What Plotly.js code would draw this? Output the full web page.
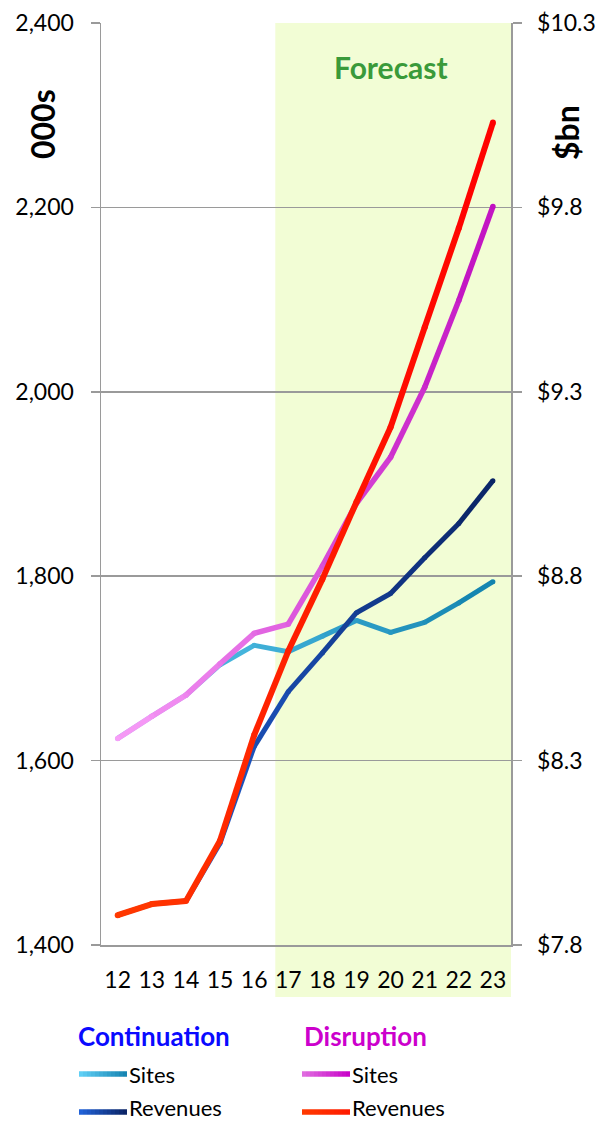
<!DOCTYPE html>
<html>
<head>
<meta charset="utf-8">
<script src="https://cdn.plot.ly/plotly-3.0.1.min.js"></script>
<style>
  html, body { margin: 0; padding: 0; background: #ffffff; }
  #chart { width: 603px; height: 1122px; }
</style>
</head>
<body>
<div id="chart"></div>
<script>
// Years (two-digit) on the category axis
const categories = ['12', '13', '14', '15', '16', '17', '18', '19', '20', '21', '22', '23'];

// Sites, thousands (left axis)
const continuationSites = [1624, 1648, 1671, 1704, 1725, 1718, 1735, 1752, 1739, 1750, 1771, 1794];
const disruptionSites   = [1624, 1648, 1671, 1705, 1738, 1748, 1811, 1879, 1929, 2005, 2099, 2201];

// Revenues, $bn (right axis)
const continuationRevenues = [7.881, 7.911, 7.919, 8.076, 8.338, 8.487, 8.592, 8.701, 8.753, 8.850, 8.943, 9.059];
const disruptionRevenues   = [7.881, 7.911, 7.919, 8.083, 8.369, 8.597, 8.792, 9.001, 9.204, 9.475, 9.744, 10.030];

// Axis ticks
const leftTickValues  = [1400, 1600, 1800, 2000, 2200, 2400];
const rightTickValues = [7.8, 8.3, 8.8, 9.3, 9.8, 10.3];
const rightTickLabels = ['$7.8', '$8.3', '$8.8', '$9.3', '$9.8', '$10.3'];

const forecastFrom = '17';

const FONT = 'Lato, "Open Sans", sans-serif';
const GRID = '#9a9a9a';

function hexToRgb(h) {
  const n = parseInt(h.slice(1), 16);
  return [(n >> 16) & 255, (n >> 8) & 255, n & 255];
}
function mix(a, b, t) {
  const A = hexToRgb(a), B = hexToRgb(b);
  const c = A.map((v, i) => Math.round(v + (B[i] - v) * t));
  return 'rgb(' + c.join(',') + ')';
}

const traces = [];

// Each series is drawn segment by segment so the colour can shift along the line;
// round dots at the vertices close the joins.
function addSeries(values, yaxis, c0, c1, width) {
  const n = values.length;
  for (let k = 0; k < n - 1; k++) {
    traces.push({
      x: [categories[k], categories[k + 1]],
      y: [values[k], values[k + 1]],
      yaxis: yaxis,
      mode: 'lines',
      line: { color: mix(c0, c1, (k + 0.5) / (n - 1)), width: width },
      hoverinfo: 'skip',
      showlegend: false
    });
  }
  traces.push({
    x: categories,
    y: values,
    yaxis: yaxis,
    mode: 'markers',
    marker: {
      size: width,
      color: values.map((_, i) => mix(c0, c1, i / (n - 1))),
      line: { width: 0 }
    },
    hoverinfo: 'skip',
    showlegend: false
  });
}

addSeries(continuationSites, 'y', '#5ccbf2', '#1283ae', 5);
addSeries(continuationRevenues, 'y2', '#2468e4', '#0a2464', 5);
addSeries(disruptionSites, 'y', '#f89ef8', '#c010c0', 5.5);
addSeries(disruptionRevenues, 'y2', '#ff3a00', '#ff0000', 6);

// Plot-area geometry in pixels, used to place the hand-built legend in paper units
const L = 101, R = 511, T = 23, B = 945;
const px = x => (x - L) / (R - L);
const py = y => (B - y) / (B - T);

const shapes = [
  {
    type: 'rect', layer: 'below',
    xref: 'x', yref: 'paper',
    x0: categories.indexOf(forecastFrom) - 0.38, x1: categories.length - 0.47,
    y0: py(997), y1: 1,
    fillcolor: '#f2fdd5', line: { width: 0 }
  }
];

// Legend swatches with the same colour shift as the lines
function swatch(x0, x1, y, c0, c1, width) {
  const steps = 12;
  for (let i = 0; i < steps; i++) {
    shapes.push({
      type: 'line', xref: 'paper', yref: 'paper',
      x0: px(x0 + (x1 - x0) * i / steps), x1: px(x0 + (x1 - x0) * (i + 1) / steps),
      y0: py(y), y1: py(y),
      line: { color: mix(c0, c1, (i + 0.5) / steps), width: width }
    });
  }
}
swatch(79, 127, 1074, '#62d2f8', '#1482b0', 5.5);
swatch(79, 127, 1112, '#2264dc', '#0a2262', 5.5);
swatch(302, 350, 1074, '#e070e0', '#c800c8', 5.5);
swatch(302, 350, 1112, '#ff3a00', '#ff1a00', 5.5);

const annotations = [
  { text: '<b>Forecast</b>', xref: 'paper', yref: 'paper', x: px(391), y: py(67),
    xanchor: 'center', yanchor: 'middle', showarrow: false,
    font: { family: FONT, size: 30, color: '#3a9a3a' } },
  { text: '<b>000s</b>', xref: 'paper', yref: 'paper', x: px(42), y: py(124),
    xanchor: 'center', yanchor: 'middle', textangle: -90, showarrow: false,
    font: { family: FONT, size: 32, color: '#000000' } },
  { text: '<b>$bn</b>', xref: 'paper', yref: 'paper', x: px(566), y: py(133),
    xanchor: 'center', yanchor: 'middle', textangle: -90, showarrow: false,
    font: { family: FONT, size: 32, color: '#000000' } },
  { text: '<b>Continuation</b>', xref: 'paper', yref: 'paper', x: px(76), y: py(1036),
    xanchor: 'left', yanchor: 'middle', showarrow: false,
    font: { family: FONT, size: 26, color: '#0a0aff' } },
  { text: '<b>Disruption</b>', xref: 'paper', yref: 'paper', x: px(302), y: py(1036),
    xanchor: 'left', yanchor: 'middle', showarrow: false,
    font: { family: FONT, size: 26, color: '#cc00cc' } },
  { text: 'Sites', xref: 'paper', yref: 'paper', x: px(128), y: py(1074),
    xanchor: 'left', yanchor: 'middle', showarrow: false, borderpad: 0,
    font: { family: FONT, size: 22, color: '#000000' } },
  { text: 'Revenues', xref: 'paper', yref: 'paper', x: px(128), y: py(1107),
    xanchor: 'left', yanchor: 'middle', showarrow: false, borderpad: 0,
    font: { family: FONT, size: 22, color: '#000000' } },
  { text: 'Sites', xref: 'paper', yref: 'paper', x: px(351), y: py(1074),
    xanchor: 'left', yanchor: 'middle', showarrow: false, borderpad: 0,
    font: { family: FONT, size: 22, color: '#000000' } },
  { text: 'Revenues', xref: 'paper', yref: 'paper', x: px(351), y: py(1107),
    xanchor: 'left', yanchor: 'middle', showarrow: false, borderpad: 0,
    font: { family: FONT, size: 22, color: '#000000' } }
];

const layout = {
  width: 603, height: 1122,
  margin: { l: L, r: 603 - R, t: T, b: 1122 - B, pad: 0 },
  paper_bgcolor: '#ffffff',
  plot_bgcolor: 'rgba(0,0,0,0)',
  showlegend: false,
  font: { family: FONT, color: '#000000' },
  xaxis: {
    type: 'category',
    range: [-0.49, categories.length - 0.47],
    showgrid: false, zeroline: false,
    showline: true, linecolor: GRID, linewidth: 1.5,
    ticks: '', ticklabelstandoff: 14,
    tickfont: { family: FONT, size: 23, color: '#000000' },
    fixedrange: true
  },
  yaxis: {
    range: [1400, 2400],
    tickvals: leftTickValues, tickformat: ',d',
    showgrid: true, gridcolor: GRID, gridwidth: 1.5,
    zeroline: false,
    showline: true, linecolor: GRID, linewidth: 1.5,
    ticks: 'outside', ticklen: 9, tickwidth: 1.5, tickcolor: GRID,
    ticklabelstandoff: 12,
    tickfont: { family: FONT, size: 23, color: '#000000' },
    fixedrange: true
  },
  yaxis2: {
    overlaying: 'y', side: 'right',
    range: [7.8, 10.3],
    tickvals: rightTickValues, ticktext: rightTickLabels,
    showgrid: false, zeroline: false,
    showline: true, linecolor: GRID, linewidth: 1.5,
    ticks: 'outside', ticklen: 9, tickwidth: 1.5, tickcolor: GRID,
    ticklabelstandoff: 11,
    tickfont: { family: FONT, size: 23, color: '#000000' },
    fixedrange: true
  },
  shapes: shapes,
  annotations: annotations
};

Plotly.newPlot('chart', traces, layout, { staticPlot: true, displayModeBar: false });
</script>
</body>
</html>
